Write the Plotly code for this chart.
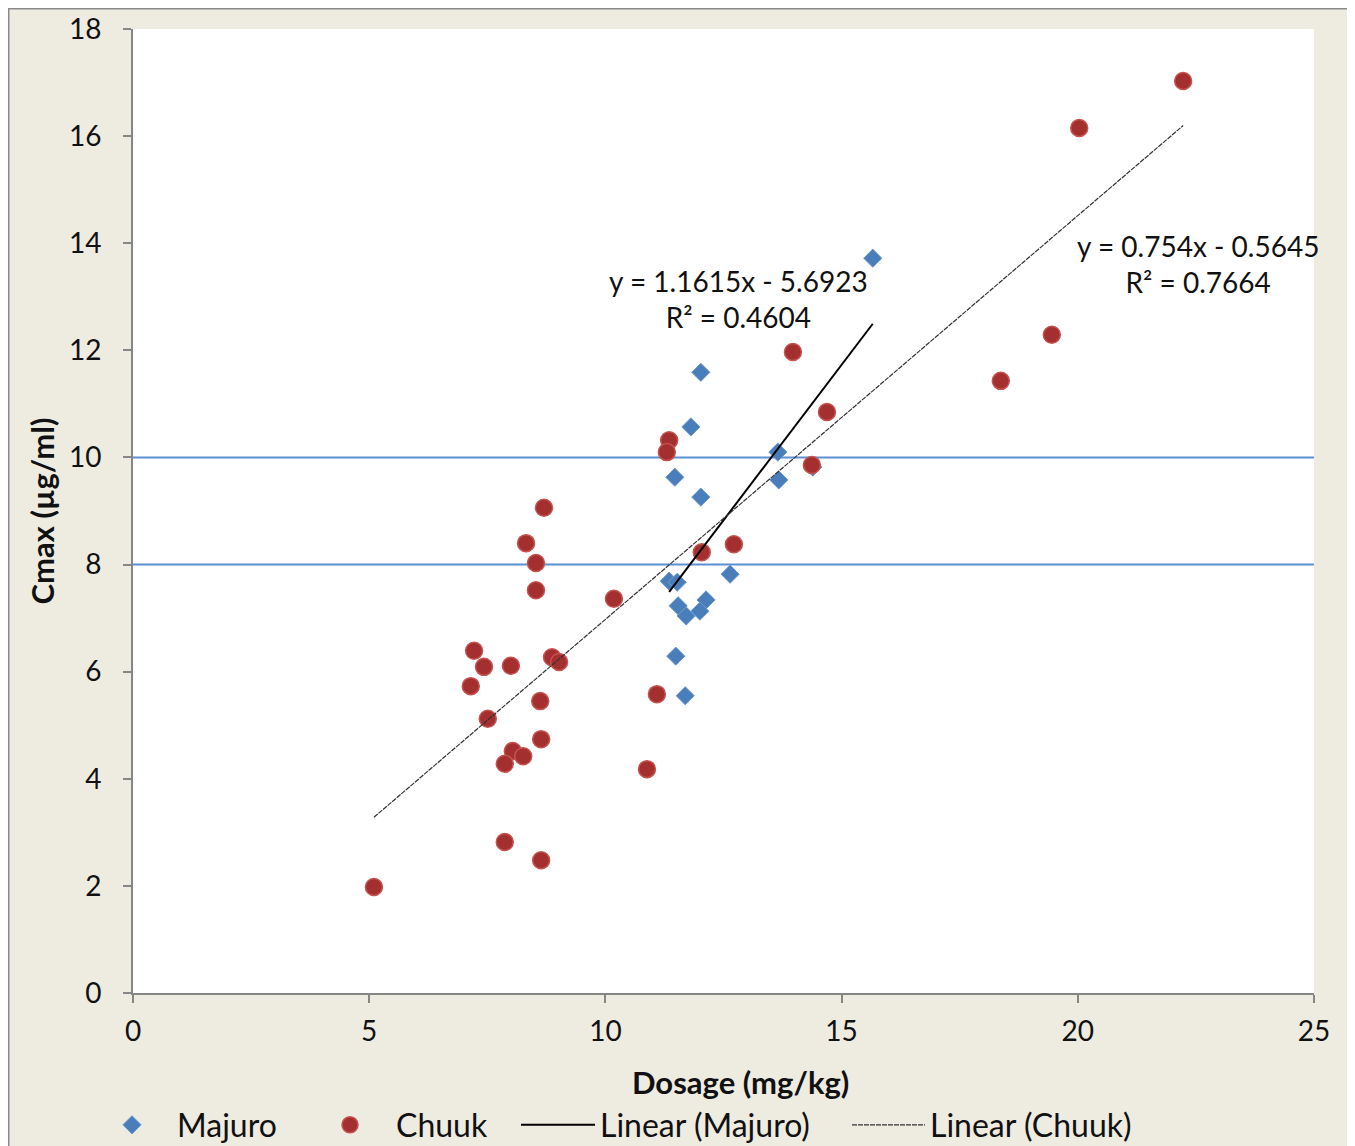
import plotly.graph_objects as go

# Majuro data (Dosage mg/kg, Cmax µg/ml)
majuro_x = [15.66, 12.02, 11.81, 13.65, 11.47, 12.02, 13.67, 14.39, 12.64, 11.35,
            11.52, 12.13, 11.54, 11.71, 12.00, 11.49, 11.69]
majuro_y = [13.72, 11.59, 10.57, 10.10, 9.63, 9.26, 9.58, 9.82, 7.82, 7.69,
            7.67, 7.34, 7.23, 7.04, 7.13, 6.29, 5.55]

# Chuuk data
chuuk_x = [22.23, 20.03, 19.45, 18.37, 13.97, 14.69, 14.37, 12.72, 12.04, 11.35,
           11.30, 10.18, 11.09, 10.88, 8.70, 8.32, 8.53, 8.53, 8.87, 9.02,
           8.62, 8.64, 7.22, 7.43, 8.00, 7.15, 7.51, 8.04, 8.26, 7.87,
           7.87, 8.64, 5.10]
chuuk_y = [17.03, 16.15, 12.29, 11.43, 11.97, 10.85, 9.86, 8.38, 8.23, 10.32,
           10.10, 7.36, 5.58, 4.18, 9.06, 8.40, 8.03, 7.52, 6.27, 6.18,
           5.45, 4.74, 6.39, 6.09, 6.11, 5.73, 5.12, 4.52, 4.42, 4.28,
           2.82, 2.48, 1.98]

# Trend line coefficients (as printed on the chart)
majuro_slope, majuro_intercept, majuro_r2 = 1.1615, -5.6923, 0.4604
chuuk_slope, chuuk_intercept, chuuk_r2 = 0.754, -0.5645, 0.7664

# Reference thresholds
thresholds = [10, 8]

x_ticks = [0, 5, 10, 15, 20, 25]
y_ticks = [0, 2, 4, 6, 8, 10, 12, 14, 16, 18]

x_title = "Dosage (mg/kg)"
y_title = "Cmax (µg/ml)"

FONT = "Lato, 'Open Sans', sans-serif"
BEIGE = "#eeebe1"

# The page body has an 8px margin; figure is sized so it sits inside the window.
W, H = 1347, 1138
OFF = 8


def px2x(p):  # screen px -> paper x
    return (p - 133) / 1181


def px2y(p):  # screen px -> paper y
    return (993 - p) / 964


def line_pts(xs, m, b):
    x0, x1 = min(xs), max(xs)
    return [x0, x1], [m * x0 + b, m * x1 + b]


fig = go.Figure()

for t in thresholds:
    fig.add_trace(go.Scatter(x=[0, 25], y=[t, t], mode="lines",
                             line=dict(color="#5b8fd0", width=2),
                             showlegend=False, hoverinfo="skip"))

fig.add_trace(go.Scatter(x=majuro_x, y=majuro_y, mode="markers", name="Majuro",
                         legend="legend",
                         marker=dict(symbol="diamond", size=14, color="#4a7ebb",
                                     line=dict(color="#6f9bd0", width=1))))
fig.add_trace(go.Scatter(x=chuuk_x, y=chuuk_y, mode="markers", name="Chuuk",
                         legend="legend2",
                         marker=dict(symbol="circle", size=17, color="#a3302f",
                                     line=dict(color="#c65350", width=1.5))))

mx, my = line_pts(majuro_x, majuro_slope, majuro_intercept)
fig.add_trace(go.Scatter(x=mx, y=my, mode="lines", name="Linear (Majuro)",
                         legend="legend3",
                         line=dict(color="#000000", width=2)))
cx, cy = line_pts(chuuk_x, chuuk_slope, chuuk_intercept)
fig.add_trace(go.Scatter(x=cx, y=cy, mode="lines", name="Linear (Chuuk)",
                         legend="legend4",
                         line=dict(color="#333333", width=1.2, dash="5px,1px")))


def sgn(v):
    return "-" if v < 0 else "+"


ann = [
    dict(x=12.81, y=12.96,
         text=f"y = {majuro_slope}x {sgn(majuro_intercept)} {abs(majuro_intercept)}<br>R² = {majuro_r2}"),
    dict(x=22.55, y=13.61,
         text=f"y = {chuuk_slope}x {sgn(chuuk_intercept)} {abs(chuuk_intercept)}<br>R² = {chuuk_r2}"),
]
for a in ann:
    fig.add_annotation(x=a["x"], y=a["y"], xref="x", yref="y", text=a["text"],
                       showarrow=False, align="center",
                       font=dict(family=FONT, size=28, color="#111111"))

# X-axis title (placed as text so it can sit slightly right of centre, as in the original)
fig.add_annotation(x=px2x(741), y=px2y(1082), xref="paper", yref="paper",
                   xanchor="center", yanchor="middle", showarrow=False,
                   text=f"<b>{x_title}</b>",
                   font=dict(family=FONT, size=31, color="#111111"))

shapes = [
    dict(type="rect", xref="paper", yref="paper", x0=px2x(1349), x1=1.3, y0=-0.3, y1=1.3,
         fillcolor="white", line=dict(width=0), layer="below"),
    dict(type="rect", xref="paper", yref="paper", x0=px2x(8.5), x1=px2x(1348),
         y0=px2y(1170), y1=px2y(8.5), fillcolor="rgba(0,0,0,0)",
         line=dict(color="#8a8a8a", width=2), layer="below"),
]

LEG_FONT = dict(family=FONT, size=32, color="#111111")
LEG_Y = 1 - (1125 - OFF) / H


def leg(x_screen, itemwidth):
    return dict(orientation="h", xref="container", yref="container",
                x=(x_screen - OFF) / W, xanchor="left", y=LEG_Y,
                yanchor="middle", font=LEG_FONT, bgcolor="rgba(0,0,0,0)",
                itemwidth=itemwidth, borderwidth=0)


fig.update_layout(
    width=W, height=H,
    margin=dict(l=133 - OFF, r=W - (1314 - OFF), t=29 - OFF, b=H - (993 - OFF),
                autoexpand=False),
    paper_bgcolor=BEIGE, plot_bgcolor="white",
    font=dict(family=FONT, size=24, color="#111111"),
    shapes=shapes,
    showlegend=True,
    legend=leg(87, 80),
    legend2=leg(304, 82),
    legend3=leg(516, 74),
    legend4=leg(847, 73),
    xaxis=dict(range=[0, 25], tickvals=x_ticks, showgrid=False, zeroline=False,
               showline=True, linecolor="#868686", linewidth=2,
               ticks="outside", ticklen=8, tickcolor="#868686", tickwidth=2,
               tickfont=dict(size=28), ticklabelstandoff=4, fixedrange=True,
               automargin=False),
    yaxis=dict(range=[0, 18], tickvals=y_ticks, showgrid=False, zeroline=False,
               showline=True, linecolor="#868686", linewidth=2,
               ticks="outside", ticklen=8, tickcolor="#868686", tickwidth=2,
               tickfont=dict(size=28), ticklabelstandoff=16, fixedrange=True,
               automargin=False,
               title=dict(text=f"<b>{y_title}</b>", font=dict(size=31), standoff=5)),
)

fig.write_html("out.html")
